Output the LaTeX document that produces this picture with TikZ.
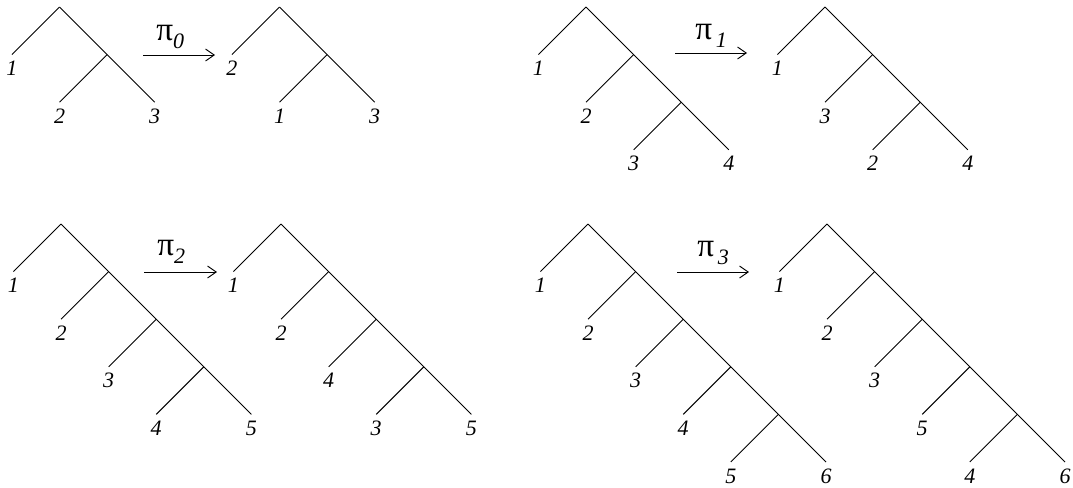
\documentclass[tikz,border=0pt]{standalone}
\usepackage{fontspec}
\setmainfont{Liberation Serif}
\usetikzlibrary{arrows.meta,calc}
\newcommand{\treestep}{47.6}
\newcommand{\cattree}[5]{%
  \coordinate (#1-top) at (#2,#3);
  \coordinate (#1-l1) at ({#2-\treestep},{#3+\treestep});
  \draw[treeline] (#1-l1) -- (#1-top);
  \pgfmathtruncatemacro{\nj}{#4-2}
  \foreach \k in {1,...,\nj} {
    \pgfmathtruncatemacro{\kk}{\k+1}
    \coordinate (#1-j\k) at ({#2+\k*\treestep},{#3+\k*\treestep});
    \coordinate (#1-l\kk) at ({#2+(\k-1)*\treestep},{#3+(\k+1)*\treestep});
    \draw[treeline] (#1-j\k) -- (#1-l\kk);
  }
  \coordinate (#1-l#4) at ({#2+(#4-1)*\treestep},{#3+(#4-1)*\treestep});
  \draw[treeline] (#1-top) -- (#1-l#4);
  \foreach \lab [count=\i] in {#5} {
    \node[leaflab] (#1-t\i) at ($(#1-l\i)+(0,21)$) {\lab};
  }
}
\newcommand{\pisub}[1]{π\raisebox{-6.5pt}{\fontsize{16.5}{18}\selectfont\itshape #1}}
\begin{document}
\begin{tikzpicture}[x=0.75pt,y=-0.75pt,
  treeline/.style={line width=0.7pt},
  leaflab/.style={anchor=base,inner sep=0pt,font=\fontsize{16.5}{18}\selectfont\itshape},
  pilab/.style={anchor=base west,inner sep=0pt,font=\fontsize{25}{28}\selectfont},
  maparrow/.style={line width=0.7pt,-{Straight Barb[length=6.5pt,width=9pt]}}]
\useasboundingbox (0,0) rectangle (1073,487);
% top row
\cattree{A}{59.5}{7}{3}{1,2,3}
\cattree{B}{279.5}{7}{3}{2,1,3}
\cattree{C}{586}{7}{4}{1,2,3,4}
\cattree{D}{825}{7}{4}{1,3,2,4}
% bottom row
\cattree{E}{61}{224}{5}{1,2,3,4,5}
\cattree{F}{281}{224}{5}{1,2,4,3,5}
\cattree{G}{588}{224}{6}{1,2,3,4,5,6}
\cattree{H}{827}{224}{6}{1,2,3,5,4,6}
% arrows
\coordinate (a0s) at (143,55);  \coordinate (a0e) at (215,55);
\coordinate (a1s) at (675,53);  \coordinate (a1e) at (747,53);
\coordinate (a2s) at (144,272); \coordinate (a2e) at (217,272);
\coordinate (a3s) at (677,272); \coordinate (a3e) at (749,272);
\draw[maparrow] (a0s) -- (a0e);
\draw[maparrow] (a1s) -- (a1e);
\draw[maparrow] (a2s) -- (a2e);
\draw[maparrow] (a3s) -- (a3e);
\node[pilab] (p0) at (156,40) {\pisub{0}};
\node[pilab] (p1) at (695,39) {\pisub{\,1}};
\node[pilab] (p2) at (157,255) {\pisub{2}};
\node[pilab] (p3) at (697,256) {\pisub{\,3}};
\end{tikzpicture}
\end{document}
